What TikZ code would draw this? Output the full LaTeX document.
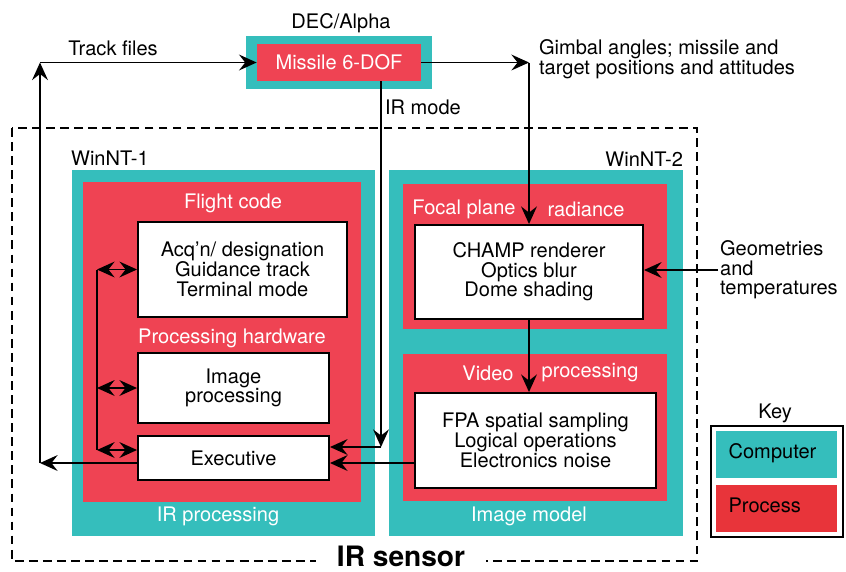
\documentclass[tikz,border=0pt]{standalone}
\usepackage{fontspec}
\setmainfont{TeX Gyre Heros}
\usepackage{tikz}
\usetikzlibrary{arrows.meta,positioning,calc}
\definecolor{compteal}{RGB}{53,190,188}
\definecolor{procred}{RGB}{239,67,83}
\definecolor{keyred}{RGB}{232,52,58}
\newcommand{\txtsize}{\fontsize{11.4}{11.2}\selectfont}
\tikzset{
    computer/.style={fill=compteal, inner sep=0pt},
    process/.style={fill=procred, inner sep=0pt, text=white},
    module/.style={draw, line width=1.1pt, fill=white, align=center, inner sep=0pt},
    bond/.style={line width=1.1pt},
    arr/.style={bond, -{Stealth[length=10pt, width=9pt, inset=3.5pt]}},
    darr/.style={bond, {Stealth[length=10pt, width=9pt, inset=3.5pt]}-{Stealth[length=10pt, width=9pt, inset=3.5pt]}},
    caption/.style={font=\txtsize, inner sep=1pt},
    wcaption/.style={caption, text=white},
    sensor/.style={line width=0.8pt, dash pattern=on 5pt off 3pt},
}

\begin{document}
\begin{tikzpicture}[font=\txtsize]
    \useasboundingbox (0,0) rectangle (16.92,-11.42);

    % IR sensor boundary
    \draw[sensor] (0.24,-2.56) rectangle (13.94,-11.22);
    \node[fill=white, font=\bfseries\fontsize{16}{18}\selectfont, inner xsep=0.42cm, inner ysep=0pt] (irs) at (8.02,-11.12) {IR sensor};

    % DEC/Alpha host
    \node[computer, minimum width=3.72cm, minimum height=1.06cm] (dec) at (6.78,-1.25) {};
    \node[process, minimum width=3.28cm, minimum height=0.74cm] (missile) at (6.78,-1.25) {Missile 6-DOF};
    \node[caption] (decl) at (6.82,-0.46) {DEC/Alpha};

    % WinNT-1: IR processing
    \node[computer, minimum width=6.06cm, minimum height=7.32cm] (nt1) at (4.47,-7.06) {};
    \node[caption, anchor=west] (nt1l) at (1.38,-3.16) {WinNT-1};
    \node[process, minimum width=5.56cm, minimum height=6.40cm] (flight) at (4.44,-6.84) {};
    \node[wcaption] (flightl) at (4.66,-4.06) {Flight code};
    \node[module, minimum width=4.18cm, minimum height=1.90cm] (acq) at (4.85,-5.39) {Acq'n/ designation\\Guidance track\\Terminal mode};
    \node[wcaption] (hwl) at (4.64,-6.76) {Processing hardware};
    \node[module, minimum width=3.82cm, minimum height=1.40cm] (img) at (4.67,-7.76) {Image\\processing};
    \node[module, minimum width=3.82cm, minimum height=0.88cm] (exec) at (4.67,-9.16) {Executive};
    \node[wcaption] (irpl) at (4.36,-10.32) {IR processing};

    % WinNT-2: image model
    \node[computer, minimum width=5.88cm, minimum height=7.32cm] (nt2) at (10.72,-7.06) {};
    \node[caption, anchor=east] (nt2l) at (13.70,-3.18) {WinNT-2};
    \node[process, minimum width=5.28cm, minimum height=2.90cm] (focal) at (10.70,-5.13) {};
    \node[wcaption] (focall) at (9.28,-4.18) {Focal plane};
    \node[wcaption] (radl) at (11.72,-4.18) {radiance};
    \node[module, minimum width=4.56cm, minimum height=1.88cm] (champ) at (10.58,-5.44) {CHAMP renderer\\Optics blur\\Dome shading};
    \node[process, minimum width=5.28cm, minimum height=2.94cm] (video) at (10.70,-8.55) {};
    \node[wcaption] (videol) at (9.76,-7.46) {Video};
    \node[wcaption] (procl) at (11.80,-7.46) {processing};
    \node[module, minimum width=4.82cm, minimum height=1.90cm] (fpa) at (10.71,-8.81) {FPA spatial sampling\\Logical operations\\Electronics noise};
    \node[wcaption] (imml) at (10.58,-10.32) {Image model};

    % Key
    \node[draw, line width=1.2pt, minimum width=2.64cm, minimum height=2.22cm] (key) at (15.54,-9.63) {};
    \node[caption] (keyl) at (15.50,-8.26) {Key};
    \node[computer, minimum width=2.42cm, minimum height=0.94cm] (keyc) at (15.53,-9.09) {};
    \node[fill=keyred, inner sep=0pt, minimum width=2.42cm, minimum height=0.94cm] (keyp) at (15.53,-10.17) {};
    \node[caption, anchor=west] (keycl) at (14.53,-9.06) {Computer};
    \node[caption, anchor=west] (keypl) at (14.53,-10.10) {Process};

    % Outside texts
    \node[caption] (trackl) at (2.26,-0.96) {Track files};
    \node[caption, anchor=west, align=left] (gimbl) at (10.74,-1.18) {Gimbal angles; missile and\\target positions and attitudes};
    \node[caption, anchor=west] (irml) at (7.66,-2.14) {IR mode};
    \node[caption, anchor=west, align=left] (geo) at (14.36,-5.40) {Geometries\\and\\temperatures};

    % Data flows
    \coordinate (tfc) at (0.80,-9.26);
    \coordinate (irc) at (7.62,-8.94);
    \coordinate (bus) at (1.94,-9.00);
    \draw[arr] (exec.west |- tfc) -- (tfc);
    \draw[arr] (tfc) -- (tfc |- missile);
    \draw[arr] (tfc |- missile) -- (missile.west);
    \draw[arr] (missile.east) -- (missile.east -| champ.north);
    \draw[arr] (missile.east -| champ.north) -- (champ.north);
    \draw[arr] (missile.south -| irc) -- (irc);
    \draw[arr] (irc) -- (irc -| exec.east);
    \draw[arr] (fpa.west |- tfc) -- (exec.east |- tfc);
    \draw[arr] (champ.south) -- (champ.south |- fpa.north);
    \draw[arr] (geo.west) -- (geo.west -| champ.east);

    % Flight code bus
    \draw[bond] (bus |- acq.west) -- (bus);
    \draw[darr] (bus |- acq.west) -- (acq.west);
    \draw[darr] (bus |- img.west) -- (img.west);
    \draw[darr] (bus) -- (bus -| exec.west);
\end{tikzpicture}
\end{document}
